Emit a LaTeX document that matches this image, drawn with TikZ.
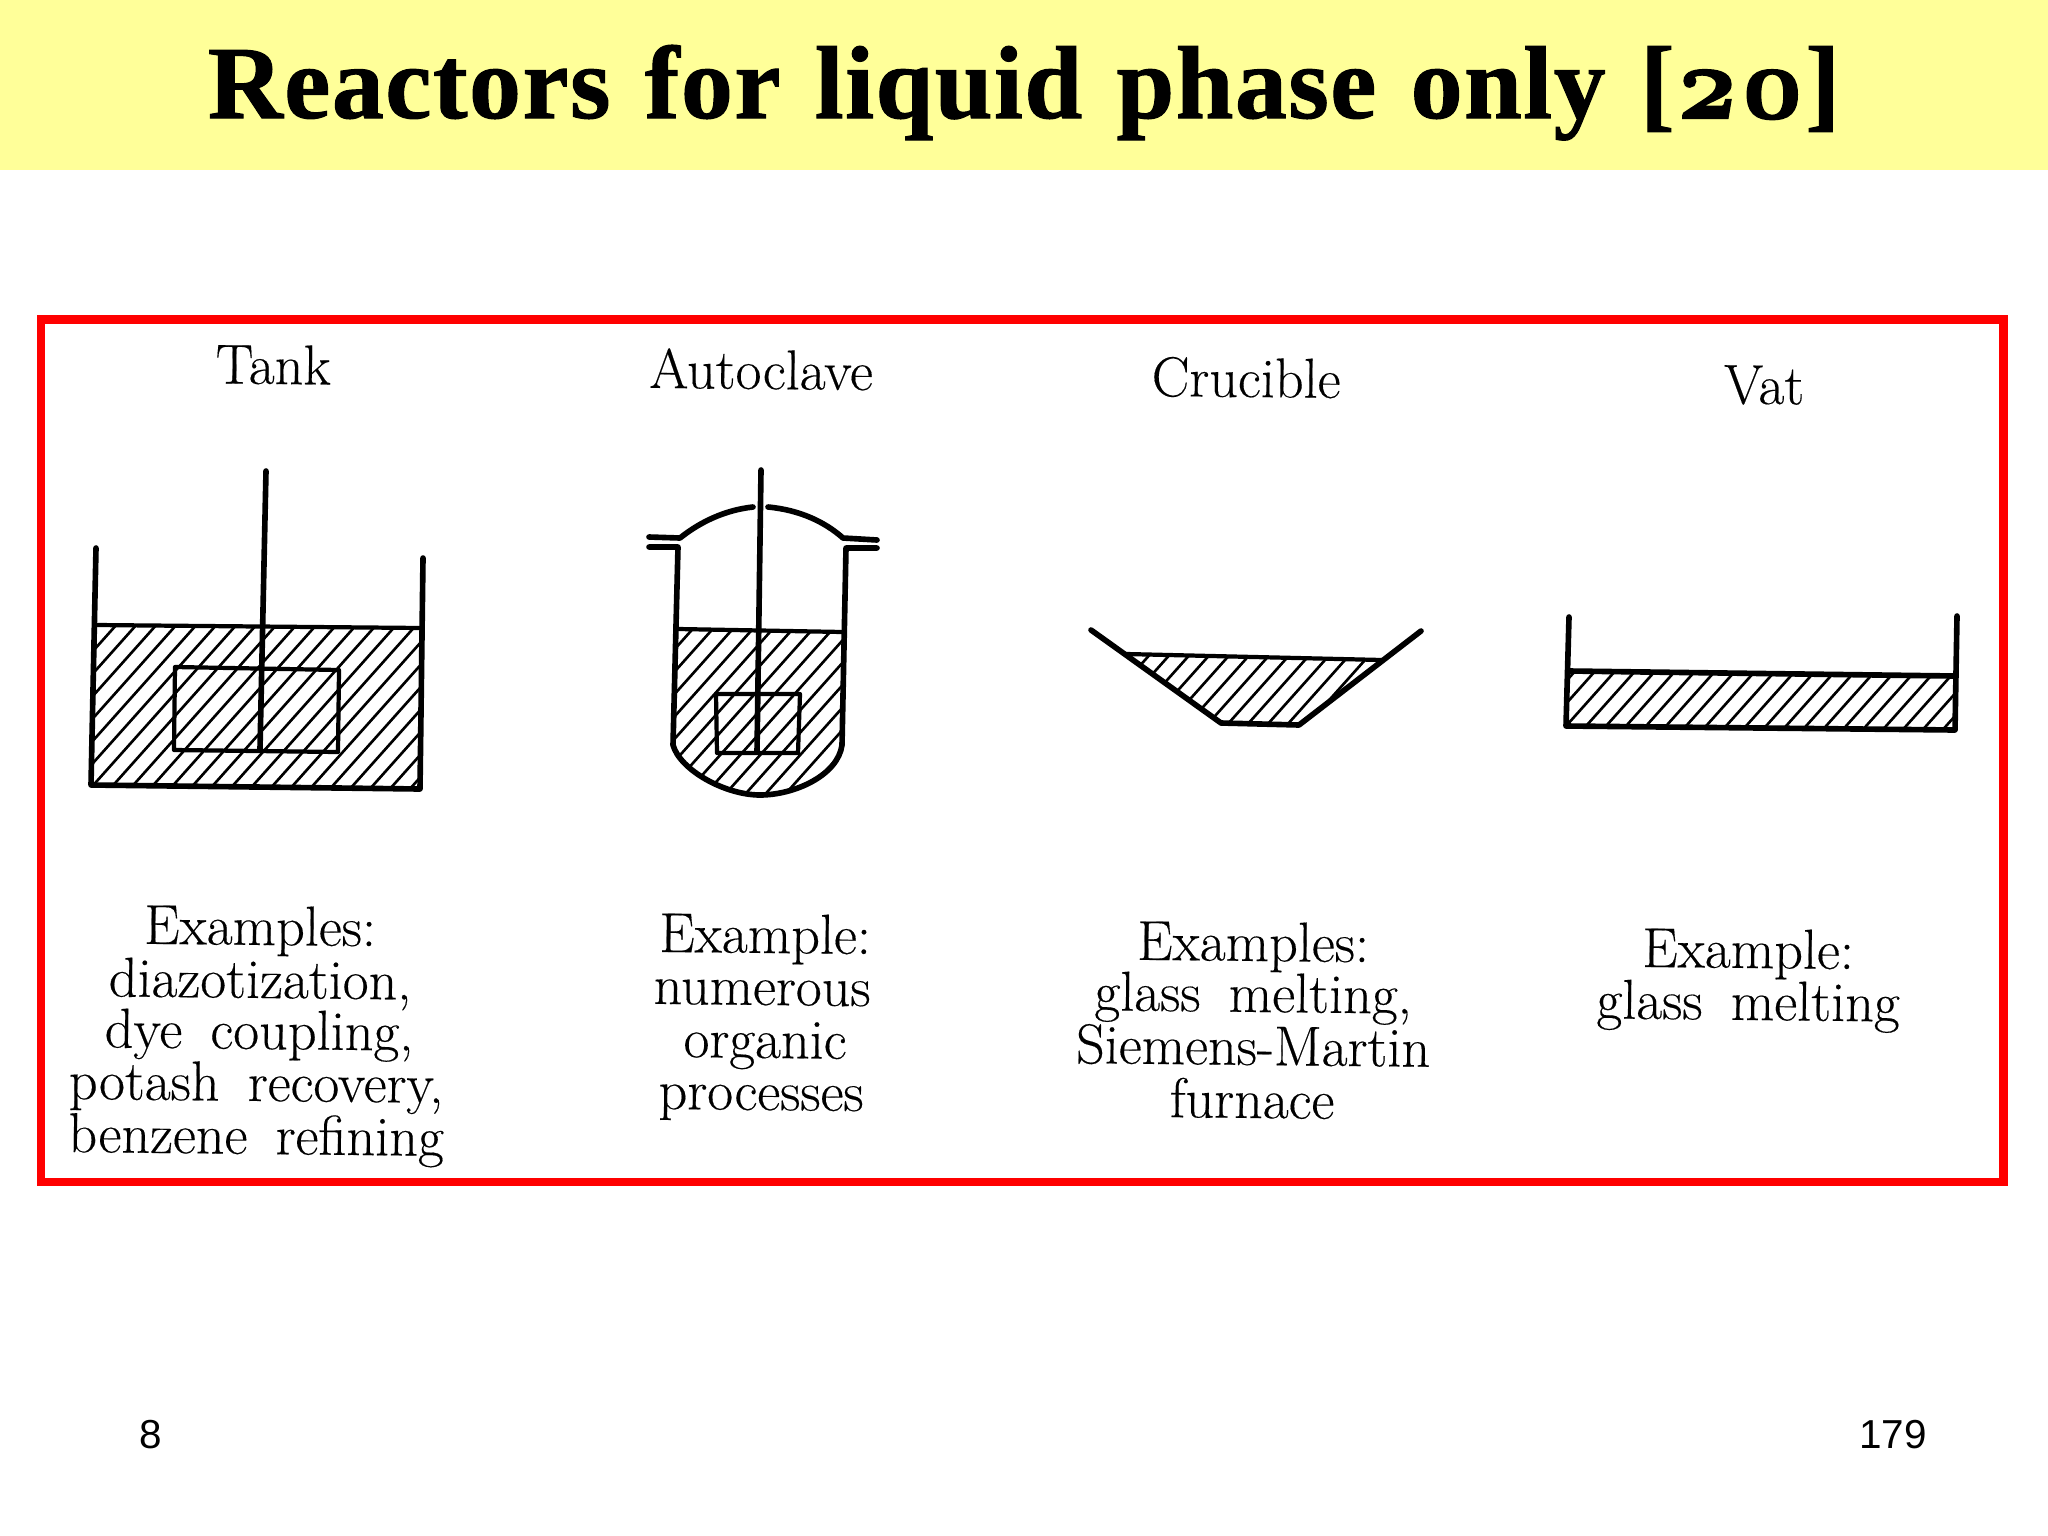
\documentclass[tikz,border=0pt]{standalone}
\usepackage{fontspec}
\newfontfamily\sansf{Liberation Sans}
\newfontfamily\titlef{Liberation Serif}[FakeBold=1,WordSpace=1.25,LetterSpace=1.5]
\newfontfamily\scanf{Latin Modern Roman}[FakeBold=0.25]
\newfontfamily\numf{Latin Modern Roman}[Numbers=OldStyle,FakeBold=2.2]
\definecolor{band}{HTML}{FFFF99}
\definecolor{frame}{HTML}{FF0000}
\tikzset{x=0.01cm,y=-0.01cm,
 wall/.style={line width=1.6pt,line join=round,line cap=round},
 thin wall/.style={line width=1.2pt,line join=round},
 hatchline/.style={line width=0.75pt},
 lab/.style={font=\scanf\fontsize{16}{18}\selectfont,inner sep=0pt,rotate=-0.6,anchor=base},
 ttl/.style={font=\scanf\fontsize{16}{18}\selectfont,inner sep=0pt,rotate=-0.6,anchor=base}}
\begin{document}
\begin{tikzpicture}
\useasboundingbox (0,0) rectangle (2048,1536);
\fill[band] (0,0) rectangle (2048,170);
\node[inner sep=0pt,anchor=base,font=\titlef\bfseries\fontsize{29.5}{32}\selectfont] (title) at (1024,118) {Reactors for liquid phase only [{\numf 20}]};
\draw[frame,line width=2.5pt] (41,319.5) rectangle (2003.5,1182);
% Tank
\begin{scope}
\clip (96,625) -- (422,628) -- (420,789) -- (91,785) -- cycle;
\foreach \k in {-200,-180,...,500}{\draw[hatchline] (\k,800) -- ++(250,-280);}
\end{scope}
\draw[wall] (96,548) -- (91,785) -- (420,789) -- (423,558);
\draw[thin wall] (96,625) -- (422,628);
\draw[thin wall] (175,667) -- (339,670) -- (338,752) -- (174,750) -- cycle;
\draw[wall] (266,471) -- (260,749);
% Autoclave
\begin{scope}
\clip (678,629) -- (843,632) -- (842,745) .. controls (838,775) and (795,795) .. (760,795) .. controls (725,795) and (680,770) .. (673,745) -- cycle;
\foreach \k in {500,520,...,1000}{\draw[hatchline] (\k,800) -- ++(250,-280);}
\end{scope}
\draw[wall] (649,537) -- (680,538) .. controls (700,522) and (725,510) .. (753,507);
\draw[wall] (768,507) .. controls (800,510) and (825,522) .. (843,538) -- (877,540);
\draw[wall] (649,547) -- (678,547) -- (673,745) .. controls (680,770) and (725,795) .. (760,795) .. controls (795,795) and (838,775) .. (842,745) -- (846,548) -- (877,548);
\draw[thin wall] (678,629) -- (843,632);
\draw[thin wall] (716,694) -- (800,694) -- (798,753) -- (717,753) -- cycle;
\draw[wall] (761,470) -- (757,752);
% Crucible
\begin{scope}
\clip (1126,654) -- (1382,660) -- (1299,725) -- (1221,723) -- cycle;
\foreach \k in {900,920,...,1500}{\draw[hatchline] (\k,800) -- ++(250,-280);}
\end{scope}
\draw[wall] (1091,630) -- (1221,723) -- (1299,725) -- (1421,631);
\draw[thin wall] (1126,654) -- (1382,660);
% Vat
\begin{scope}
\clip (1569,671) -- (1955,676) -- (1955,730) -- (1566,726) -- cycle;
\foreach \k in {1400,1420,...,2000}{\draw[hatchline] (\k,800) -- ++(250,-280);}
\end{scope}
\draw[wall] (1569,617) -- (1566,726) -- (1955,730) -- (1957,616);
\draw[wall] (1569,671) -- (1955,676);
% Labels
\node[ttl] (t1) at (273,384) {Tank};
\node[ttl] (t2) at (761,389) {Autoclave};
\node[ttl] (t3) at (1246,397) {Crucible};
\node[ttl] (t4) at (1764,404) {Vat};
\node[lab] (a1) at (260,945) {Examples:};
\node[lab] (a2) at (260,998) {diazotization,};
\node[lab] (a3) at (259,1049) {dye\hspace{0.2em} coupling,};
\node[lab] (a4) at (256,1101) {potash\hspace{0.2em} recovery,};
\node[lab] (a5) at (256,1154) {benzene\hspace{0.2em} refining};
\node[lab] (b1) at (765,953) {Example:};
\node[lab] (b2) at (762,1005) {numerous};
\node[lab] (b3) at (765,1058) {organic};
\node[lab] (b4) at (761,1110) {processes};
\node[lab] (c1) at (1253,961) {Examples:};
\node[lab] (c2) at (1253,1012) {glass\hspace{0.2em} melting,};
\node[lab] (c3) at (1253,1065) {Siemens-Martin};
\node[lab] (c4) at (1252,1118) {furnace};
\node[lab] (d1) at (1748,968) {Example:};
\node[lab] (d2) at (1748,1020) {glass\hspace{0.2em} melting};
% Footer
\node[font=\sansf\fontsize{11.5}{14}\selectfont,inner sep=0pt] (n1) at (151,1435) {8};
\node[font=\sansf\fontsize{11.5}{14}\selectfont,inner sep=0pt] (n2) at (1893,1435) {179};
\end{tikzpicture}
\end{document}
